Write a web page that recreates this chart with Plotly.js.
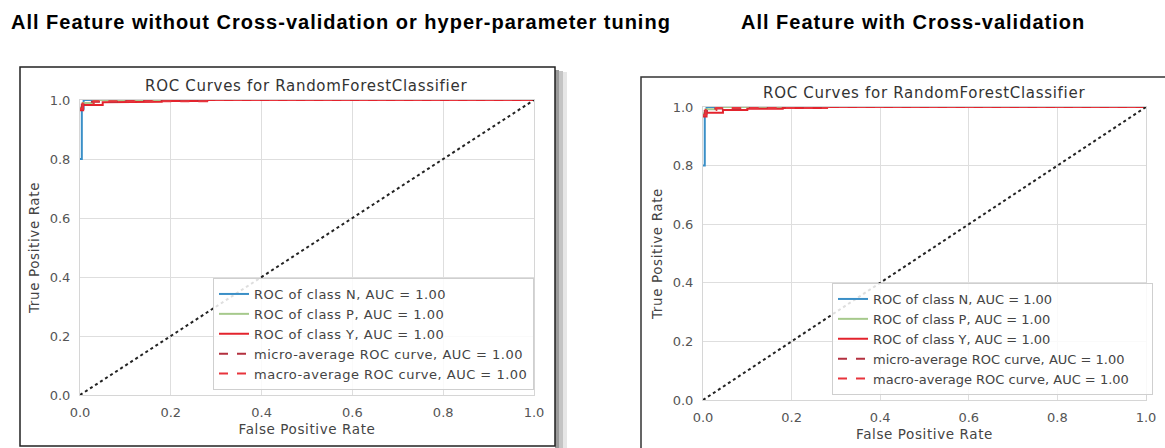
<!DOCTYPE html>
<html>
<head>
<meta charset="utf-8">
<script src="https://cdn.plot.ly/plotly-3.0.1.min.js"></script>
<style>
html,body{margin:0;padding:0;background:#fff;}
#chart{width:1165px;height:448px;}
.annotation[data-index="0"] text, .annotation[data-index="1"] text{letter-spacing:1px;}
.annotation[data-index="2"] text, .annotation[data-index="3"] text{letter-spacing:0.7px;}
.xtitle, .x2title, .ytitle, .y2title{letter-spacing:0.6px;}
.legendtext{letter-spacing:0.5px;}
</style>
</head>
<body>
<div id="chart"></div>
<script>
// ---------- data ----------
const headingLeft = "All Feature without Cross-validation or hyper-parameter tuning";
const headingRight = "All Feature with Cross-validation";
const chartTitle = "ROC Curves for RandomForestClassifier";
const xTitle = "False Positive Rate";
const yTitle = "True Positive Rate";
const tickVals = [0, 0.2, 0.4, 0.6, 0.8, 1.0];
const tickText = ["0.0", "0.2", "0.4", "0.6", "0.8", "1.0"];
const seriesNames = [
  "ROC of class N, AUC = 1.00",
  "ROC of class P, AUC = 1.00",
  "ROC of class Y, AUC = 1.00",
  "micro-average ROC curve, AUC = 1.00",
  "macro-average ROC curve, AUC = 1.00"
];
const diagX = [0, 1];
const diagY = [0, 1];

// left chart (no cross-validation)
const fprN1 = [0, 0.004, 0.004, 0.008, 0.008, 1];
const tprN1 = [0.8, 0.8, 0.97, 0.97, 1, 1];
const fprP1 = [0, 0.006, 0.006, 0.03, 0.03, 1];
const tprP1 = [0.975, 0.975, 0.99, 0.99, 1, 1];
const fprY1 = [0, 0.007, 0.007, 0.05, 0.05, 0.1, 0.1, 0.18, 0.18, 0.28, 0.28, 1];
const tprY1 = [0.965, 0.965, 0.983, 0.983, 0.992, 0.992, 0.994, 0.994, 0.997, 0.997, 1, 1];
const fprMicro1 = [0, 0.004, 0.004, 0.02, 0.02, 0.1, 0.1, 1];
const tprMicro1 = [0.97, 0.97, 0.985, 0.985, 0.994, 0.994, 1, 1];
const fprMacro1 = [0, 0.006, 0.006, 0.03, 0.03, 0.28, 0.28, 1];
const tprMacro1 = [0.97, 0.97, 0.988, 0.988, 0.996, 0.996, 1, 1];

// right chart (with cross-validation)
const fprN2 = [0, 0.004, 0.004, 0.008, 0.008, 1];
const tprN2 = [0.8, 0.8, 0.975, 0.975, 1, 1];
const fprP2 = [0, 0.006, 0.006, 0.03, 0.03, 1];
const tprP2 = [0.978, 0.978, 0.992, 0.992, 1, 1];
const fprY2 = [0, 0.008, 0.008, 0.045, 0.045, 0.1, 0.1, 0.18, 0.18, 0.28, 0.28, 1];
const tprY2 = [0.968, 0.968, 0.98, 0.98, 0.99, 0.99, 0.994, 0.994, 0.997, 0.997, 1, 1];
const fprMicro2 = [0, 0.004, 0.004, 0.02, 0.02, 0.1, 0.1, 1];
const tprMicro2 = [0.972, 0.972, 0.986, 0.986, 0.995, 0.995, 1, 1];
const fprMacro2 = [0, 0.006, 0.006, 0.03, 0.03, 0.28, 0.28, 1];
const tprMacro2 = [0.972, 0.972, 0.99, 0.99, 0.997, 0.997, 1, 1];

// ---------- style ----------
const W = 1165, H = 448;
const px = v => v / W;
const py = v => 1 - v / H;
const colors = ["#3a8fc7", "#a6c98c", "#e3232c", "#b3303f", "#e8343c"];
const dashes = ["solid", "solid", "solid", "dash", "dash"];
const FONT = "DejaVu Sans, Verdana, sans-serif";

function makeTraces(sets, xa, ya, legendId) {
  const out = sets.map((s, i) => ({
    type: "scatter", mode: "lines", x: s[0], y: s[1], name: seriesNames[i],
    xaxis: xa, yaxis: ya, legend: legendId,
    line: {color: colors[i], width: 2, dash: dashes[i], shape: "linear"},
    hoverinfo: "skip"
  }));
  out.push({
    type: "scatter", mode: "lines", x: diagX, y: diagY, xaxis: xa, yaxis: ya,
    showlegend: false, line: {color: "#222", width: 2, dash: "dot"}, hoverinfo: "skip"
  });
  return out;
}

const traces = [].concat(
  makeTraces([[fprN1, tprN1], [fprP1, tprP1], [fprY1, tprY1], [fprMicro1, tprMicro1], [fprMacro1, tprMacro1]], "x", "y", "legend"),
  makeTraces([[fprN2, tprN2], [fprP2, tprP2], [fprY2, tprY2], [fprMicro2, tprMicro2], [fprMacro2, tprMacro2]], "x2", "y2", "legend2")
);

function axis(domain, anchor, isX) {
  return {
    domain: domain, anchor: anchor, range: [0, 1], fixedrange: true,
    tickvals: tickVals, ticktext: tickText, ticks: "",
    ticklabelstandoff: isX ? 5 : 6,
    tickfont: {family: FONT, size: 13, color: "#555"},
    showgrid: true, gridcolor: "#dedede", gridwidth: 1,
    zeroline: false, showline: true, linecolor: "#d6d6d6", linewidth: 1, mirror: true,
    title: {text: isX ? xTitle : yTitle, font: {family: FONT, size: 13.5, color: "#444"}, standoff: isX ? 5 : 6}
  };
}

const L = {x0: 80, x1: 534, y0: 100, y1: 395};
const R = {x0: 703, x1: 1146, y0: 107, y1: 400};

const layout = {
  width: W, height: H, autosize: false,
  margin: {l: 0, r: 0, t: 0, b: 0, pad: 0},
  paper_bgcolor: "#fff", plot_bgcolor: "#fff",
  xaxis: axis([px(L.x0), px(L.x1)], "y", true),
  yaxis: axis([py(L.y1), py(L.y0)], "x", false),
  xaxis2: axis([px(R.x0), px(R.x1)], "y2", true),
  yaxis2: axis([py(R.y1), py(R.y0)], "x2", false),
  legend: {
    x: px(213), y: py(278), xanchor: "left", yanchor: "top",
    bgcolor: "rgba(255,255,255,0.85)", bordercolor: "#cfcfcf", borderwidth: 1,
    font: {family: FONT, size: 13, color: "#444"}, itemwidth: 30, tracegroupgap: 0
  },
  legend2: {
    x: px(832), y: py(283), xanchor: "left", yanchor: "top",
    bgcolor: "rgba(255,255,255,0.85)", bordercolor: "#cfcfcf", borderwidth: 1,
    font: {family: FONT, size: 13, color: "#444"}, itemwidth: 30, tracegroupgap: 0
  },
  shapes: [
    // left frame shadow
    {type: "rect", xref: "paper", yref: "paper", x0: px(555), x1: px(559), y0: py(458), y1: py(70), fillcolor: "#9a9a9a", line: {width: 0}, layer: "below"},
    {type: "rect", xref: "paper", yref: "paper", x0: px(559), x1: px(563), y0: py(458), y1: py(71), fillcolor: "#c4c4c4", line: {width: 0}, layer: "below"},
    {type: "rect", xref: "paper", yref: "paper", x0: px(563), x1: px(567), y0: py(458), y1: py(72), fillcolor: "#e6e6e6", line: {width: 0}, layer: "below"},
    // left frame
    {type: "rect", xref: "paper", yref: "paper", x0: px(20), x1: px(555), y0: py(446), y1: py(67), line: {color: "#222", width: 1.5}, layer: "below"},
    // right frame
    {type: "rect", xref: "paper", yref: "paper", x0: px(641), x1: px(1175), y0: py(460), y1: py(77), line: {color: "#333", width: 1.5}, layer: "below"}
  ],
  annotations: [
    {xref: "paper", yref: "paper", x: px(9), y: py(22), xanchor: "left", yanchor: "middle", align: "left", showarrow: false,
     text: "<b>" + headingLeft + "</b>", font: {family: "Liberation Sans, Arial, sans-serif", size: 20, color: "#000"}},
    {xref: "paper", yref: "paper", x: px(739), y: py(22), xanchor: "left", yanchor: "middle", align: "left", showarrow: false,
     text: "<b>" + headingRight + "</b>", font: {family: "Liberation Sans, Arial, sans-serif", size: 20, color: "#000"}},
    {xref: "paper", yref: "paper", x: px((L.x0 + L.x1) / 2), y: py(86), xanchor: "center", yanchor: "middle", showarrow: false,
     text: chartTitle, font: {family: FONT, size: 15, color: "#333"}},
    {xref: "paper", yref: "paper", x: px((R.x0 + R.x1) / 2), y: py(93), xanchor: "center", yanchor: "middle", showarrow: false,
     text: chartTitle, font: {family: FONT, size: 15, color: "#333"}}
  ]
};

Plotly.newPlot("chart", traces, layout, {staticPlot: true, displayModeBar: false});
</script>
</body>
</html>
